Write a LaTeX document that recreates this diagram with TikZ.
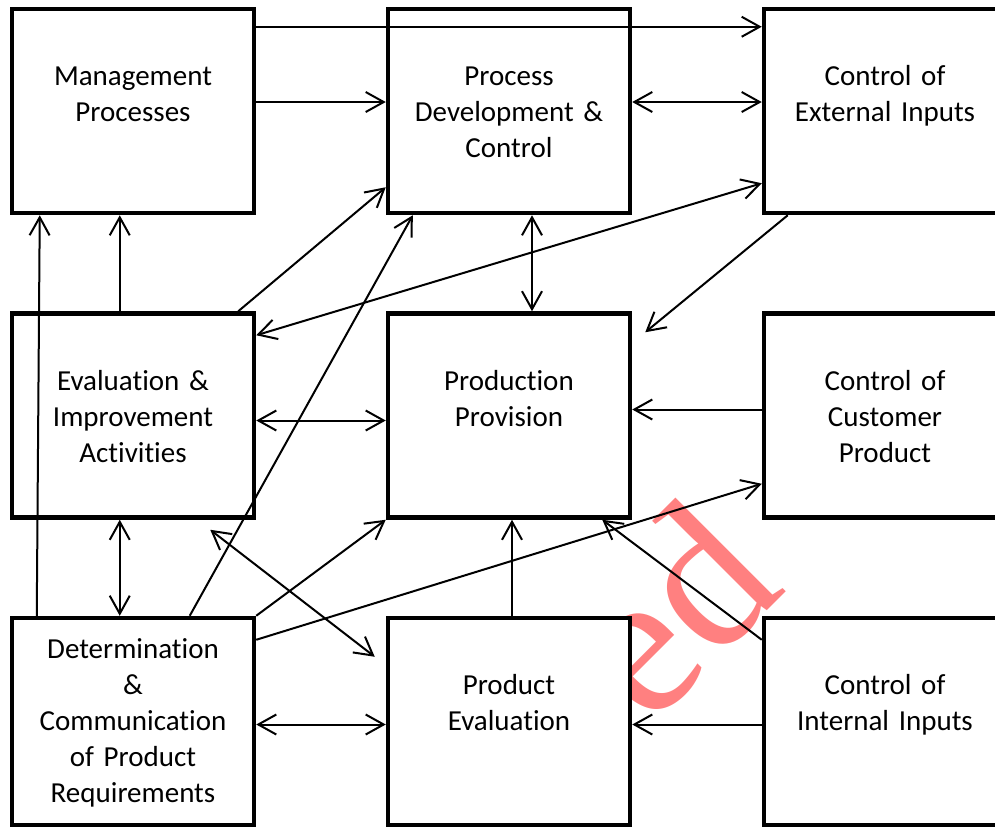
\documentclass[tikz,border=0pt]{standalone}
\usepackage{fontspec}
\setmainfont{Carlito}[Ligatures=NoCommon]
\newfontfamily\wmfont{Liberation Serif}
\usetikzlibrary{positioning,calc,arrows.meta}

\begin{document}
\begin{tikzpicture}[x=0.5pt,y=-0.5pt,
	node distance=48pt and 64.75pt,
	blk/.style={draw,line width=2.25pt,fill=white,minimum width=121pt,minimum height=102pt,inner sep=0pt},
	lbl/.style={text width=120pt,align=center,inner sep=0pt,font=\fontsize{14.5}{18}\selectfont},
	arr/.style={line width=1pt,-{Straight Barb[length=9pt,width=10pt]}},
	dbl/.style={line width=1pt,{Straight Barb[length=9pt,width=10pt]}-{Straight Barb[length=9pt,width=10pt]}}]
	\useasboundingbox (0,0) rectangle (995,827);
	\clip (0,0) rectangle (995,827);

	\node[font=\wmfont\fontsize{104}{106}\selectfont,text=red!50,rotate=45,anchor=base east,inner sep=0pt] (wmark) at (788,590) {ed};

	\node[blk] (mgmt) at (133,111) {};
	\node[blk, right=of mgmt] (pdc) {};
	\node[blk, right=of pdc] (ext) {};
	\node[blk, below=of mgmt] (eval) {};
	\node[blk, right=of eval] (prov) {};
	\node[blk, right=of prov] (cust) {};
	\node[blk, below=of eval, minimum height=103.5pt] (det) {};
	\node[blk, right=of det, minimum height=103.5pt] (peval) {};
	\node[blk, right=of peval, minimum height=103.5pt] (int) {};

	\node[lbl, below=39.5pt of mgmt.north, anchor=base] (tmgmt) {Management\\Processes};
	\node[lbl, below=39.5pt of pdc.north, anchor=base] (tpdc) {Process\\Development \&\\Control};
	\node[lbl, below=39.5pt of ext.north, anchor=base] (text) {Control of\\External Inputs};
	\node[lbl, below=39.5pt of eval.north, anchor=base] (teval) {Evaluation \&\\Improvement\\Activities};
	\node[lbl, below=39.5pt of prov.north, anchor=base] (tprov) {Production\\Provision};
	\node[lbl, below=39.5pt of cust.north, anchor=base] (tcust) {Control of\\Customer\\Product};
	\node[lbl, below=21.5pt of det.north, anchor=base] (tdet) {Determination\\\&\\Communication\\of Product\\Requirements};
	\node[lbl, below=39.5pt of peval.north, anchor=base] (tpeval) {Product\\Evaluation};
	\node[lbl, below=39.5pt of int.north, anchor=base] (tint) {Control of\\Internal Inputs};

	\draw[arr] ($(mgmt.north east)+(0,20)$) -- ($(ext.north west)+(0,20)$);
	\draw[arr] ($(mgmt.east)+(0,-9)$) -- ($(pdc.west)+(0,-9)$);
	\draw[dbl] ($(pdc.east)+(0,-9)$) -- ($(ext.west)+(0,-9)$);
	\draw[arr] ($(det.north west)+(27,0)$) -- ($(mgmt.south west)+(30,0)$);
	\draw[arr] ($(eval.north west)+(110,0)$) -- ($(mgmt.south west)+(110,0)$);
	\draw[arr] ($(eval.north east)+(-18,0)$) -- ($(pdc.south west)+(0,-28)$);
	\draw[arr] ($(det.north west)+(180,0)$) -- ($(pdc.south west)+(27,0)$);
	\draw[dbl] ($(ext.south west)+(0,-32)$) -- ($(eval.north east)+(0,24)$);
	\draw[dbl] ($(pdc.south)+(23,0)$) -- ($(prov.north)+(23,0)$);
	\draw[arr] ($(ext.south west)+(26,0)$) -- ($(prov.north east)+(13,21)$);
	\draw[dbl] ($(eval.east)+(0,5)$) -- ($(prov.west)+(0,5)$);
	\draw[arr] ($(cust.west)+(0,-6)$) -- ($(prov.east)+(0,-6)$);
	\draw[dbl] ($(eval.south west)+(110,0)$) -- ($(det.north west)+(110,0)$);
	\draw[dbl] ($(eval.south east)+(-46,10)$) -- ($(peval.north west)+(-11,41)$);
	\draw[arr] (det.north east) -- (prov.south west);
	\draw[arr] ($(det.north east)+(0,24)$) -- ($(cust.south west)+(0,-36)$);
	\draw[arr] ($(peval.north)+(3,0)$) -- ($(prov.south)+(3,0)$);
	\draw[arr] ($(int.north west)+(0,24)$) -- ($(prov.south east)+(-30,0)$);
	\draw[arr] ($(int.west)+(0,3)$) -- ($(peval.east)+(0,3)$);
	\draw[dbl] ($(det.east)+(0,3)$) -- ($(peval.west)+(0,3)$);

\end{tikzpicture}
\end{document}
